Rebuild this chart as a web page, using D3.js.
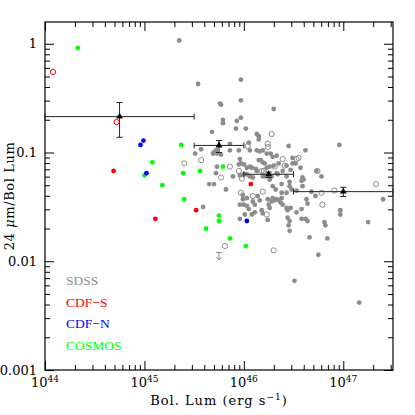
<!DOCTYPE html>
<html><head><meta charset="utf-8">
<script src="https://cdn.jsdelivr.net/npm/d3@7"></script>
<style>body{margin:0;background:#fff}svg{display:block}</style>
</head><body>
<script>
// ---- data (log10 values) ----
const sdssLogL = [45.35,45.54,45.97,45.97,45.76,45.77,46.30,45.79,45.79,45.93,45.97,45.92,46.02,45.68,46.13,46.15,46.15,45.86,46.05,46.45,46.62,46.96,45.51,45.57,45.65,45.72,45.70,45.69,45.73,45.86,45.77,45.95,45.96,45.97,46.00,45.73,45.72,45.89,46.00,45.70,45.82,46.06,46.13,46.16,46.19,46.23,46.27,46.29,46.33,46.49,46.15,46.17,46.19,46.21,46.23,46.26,46.30,46.35,46.43,46.49,46.57,46.73,46.78,45.95,46.03,46.06,46.03,46.06,46.09,46.22,46.26,46.28,46.33,46.39,46.43,46.46,45.99,46.14,46.24,46.29,46.32,46.38,46.38,46.43,46.46,46.48,46.53,46.59,46.60,46.63,46.68,46.72,47.40,46.59,46.64,46.58,46.53,46.97,46.97,46.58,46.62,46.64,46.81,46.82,47.25,46.66,46.84,46.75,46.51,47.16,45.99,46.03,46.00,46.03,46.09,46.16,46.11,46.18,46.19,46.25,46.26,46.28,46.29,46.31,46.33,46.35,46.37,46.38,46.39,46.43,46.47,46.44,46.44,46.46,46.45,46.46,46.05,46.08,45.59,46.01,45.96,46.24,46.11,45.96,46.08,46.12,46.13,46.19,46.34,46.47,46.52,45.96,46.58];
const sdssLogR = [0.03,-0.37,-0.33,-0.52,-0.55,-0.56,-0.60,-0.70,-0.73,-0.71,-0.68,-0.78,-0.78,-0.81,-0.83,-0.85,-0.88,-0.92,-0.91,-0.94,-0.98,-0.93,-1.01,-0.97,-1.29,-0.98,-1.00,-1.01,-1.01,-0.98,-1.02,-0.98,-1.06,-1.10,-1.11,-1.13,-1.19,-1.22,-1.20,-1.29,-1.34,-0.98,-0.98,-0.99,-0.98,-1.01,-1.01,-1.04,-1.03,-1.05,-1.07,-1.07,-1.09,-1.10,-1.14,-1.13,-1.12,-1.10,-1.12,-1.10,-1.14,-1.17,-1.22,-1.11,-1.14,-1.13,-1.20,-1.22,-1.23,-1.22,-1.25,-1.22,-1.19,-1.17,-1.22,-1.27,-1.39,-1.40,-1.43,-1.31,-1.34,-1.29,-1.37,-1.37,-1.31,-1.34,-1.35,-1.31,-1.25,-1.43,-1.36,-1.40,-1.43,-1.23,-1.47,-1.52,-1.55,-1.53,-1.57,-1.61,-1.61,-1.63,-1.64,-1.67,-1.64,-1.78,-1.79,-1.94,-2.18,-2.38,-1.43,-1.42,-1.48,-1.49,-1.45,-1.44,-1.55,-1.53,-1.56,-1.48,-1.51,-1.45,-1.42,-1.44,-1.43,-1.44,-1.46,-1.42,-1.48,-1.51,-1.51,-1.53,-1.60,-1.63,-1.67,-1.72,-1.52,-1.57,-1.50,-1.57,-1.61,-1.62,-1.48,-1.48,-1.14,-1.15,-1.17,-1.22,-1.20,-1.16,-1.10,-1.21,-1.26];
const sdssOpenLogL = [45.40,45.57,46.28,46.04,46.24,46.24,45.77,45.95,45.98,45.86,45.97,46.39,46.53,46.55,46.31,46.41,46.74,46.18,46.20,46.09,46.19,46.78,46.91,47.33,46.79,46.23,46.30,45.81];
const sdssOpenLogR = [-1.10,-1.07,-0.83,-0.94,-0.92,-0.95,-1.23,-1.17,-1.24,-1.13,-1.37,-1.06,-1.06,-1.05,-1.13,-1.12,-1.17,-1.17,-1.17,-1.40,-1.36,-1.37,-1.35,-1.29,-1.48,-1.57,-1.90,-1.86];
const sdssLimitLogL = [45.75];
const sdssLimitLogR = [-1.92];

const cdfsLogL = [44.69,45.11,45.52,46.07];
const cdfsLogR = [-1.17,-1.61,-1.53,-1.29];
const cdfsOpenLogL = [44.08,44.72];
const cdfsOpenLogR = [-0.26,-0.72];

const cdfnLogL = [44.96,44.99,45.02,46.03];
const cdfnLogR = [-0.93,-0.89,-1.19,-1.63];

const cosmosLogL = [44.33,45.37,45.08,45.00,45.18,45.39,45.56,45.79,45.40,45.62,45.75,45.75,45.86,46.02];
const cosmosLogR = [-0.04,-0.93,-1.09,-1.21,-1.30,-1.19,-1.17,-1.13,-1.43,-1.70,-1.58,-1.63,-1.79,-1.86];

// binned means with error bars
const binLogL   = [44.75,45.75,46.25,47.0];
const binLogR   = [-0.67,-0.935,-1.20,-1.36];
const binLoLogL = [44.0,45.5,46.0,46.5];
const binHiLogL = [45.5,46.0,46.5,47.5];
const binLoLogR = [-0.86,-1.0,-1.23,-1.405];
const binHiLogR = [-0.54,-0.89,-1.18,-1.32];

const xMajor = [1e44,1e45,1e46,1e47];
const xTickExp = ["44","45","46","47"];
const yMajor = [0.001,0.01,0.1,1];
const yTickLabels = ["0.001","0.01","0.1","1"];

const legendNames = ["SDSS","CDF\u2212S","CDF\u2212N","COSMOS"];
const legendColors = ["#8c8c8c","#ff0000","#0000ff","#00ff00"];

// ---- drawing ----
const P = v => Math.pow(10, v);
const M = {l:45, t:22, r:393, b:370};
const x = d3.scaleLog().domain([1e44, P(47.5)]).range([M.l, M.r]);
const y = d3.scaleLog().domain([1e-3, P(0.2)]).range([M.b, M.t]);

const svg = d3.select("body").append("svg").attr("width",415).attr("height",415);
svg.append("rect").attr("width",415).attr("height",415).attr("fill","#fff");

function minors(lo, hi, dmin, dmax) {
  const out = [];
  for (let d = dmin; d <= dmax; d++) for (let k = 2; k <= 9; k++) {
    const v = k * Math.pow(10, d);
    if (v > lo && v < hi) out.push(v);
  }
  return out;
}
const xMinor = minors(1e44, P(47.5), 44, 47);
const yMinor = minors(1e-3, P(0.2), -3, 0);

const serif = "DejaVu Serif";
function axisPair(axisFn, scale, major, minor, transform, fmt, pad) {
  const g = svg.append("g").attr("transform", transform);
  g.call(axisFn(scale).tickValues(major).tickSizeInner(-9).tickSizeOuter(0).tickPadding(pad||8).tickFormat(fmt || (() => "")));
  g.append("g").call(axisFn(scale).tickValues(minor).tickSizeInner(-5).tickSizeOuter(0).tickFormat(() => ""));
  g.selectAll(".domain").remove();
  g.selectAll("line").attr("stroke","#000").attr("stroke-width",1);
  g.attr("font-family", serif).attr("font-size", 13);
  return g;
}
const gB = axisPair(d3.axisBottom, x, xMajor, xMinor, `translate(0,${M.b})`);
axisPair(d3.axisTop, x, xMajor, xMinor, `translate(0,${M.t})`);
axisPair(d3.axisLeft, y, yMajor, yMinor, `translate(${M.l},0)`, (d,i) => yTickLabels[i], 8)
  .selectAll("text").attr("fill","#000").attr("font-family", serif).attr("font-size",13);
axisPair(d3.axisRight, y, yMajor, yMinor, `translate(${M.r},0)`);

// x tick labels 10^n
xMajor.forEach((v,i) => {
  const t = svg.append("text").attr("x", x(v)).attr("y", 387).attr("text-anchor","middle")
    .attr("font-family", serif).attr("font-size",13).attr("fill","#000");
  t.append("tspan").text("10");
  t.append("tspan").attr("dy",-5).attr("font-size",9).text(xTickExp[i]);
});

// frame
svg.append("rect").attr("x",M.l).attr("y",M.t).attr("width",M.r-M.l).attr("height",M.b-M.t)
  .attr("fill","none").attr("stroke","#000").attr("stroke-width",1.2);

// axis titles
const xt = svg.append("text").attr("x",219).attr("y",405).attr("text-anchor","middle")
  .attr("font-family",serif).attr("font-size",13).attr("letter-spacing",1).attr("fill","#000");
xt.append("tspan").text("Bol. Lum (erg s");
xt.append("tspan").attr("dy",-5).attr("font-size",9).text("\u22121");
xt.append("tspan").attr("dy",5).text(")");

const yt = svg.append("text").attr("transform","translate(14,196) rotate(-90)").attr("text-anchor","middle")
  .attr("font-family",serif).attr("font-size",13).attr("letter-spacing",0.6).attr("fill","#000");
yt.append("tspan").text("24 ");
yt.append("tspan").attr("font-style","italic").text("\u03bc");
yt.append("tspan").text("m/Bol Lum");

// points
const plot = svg.append("g");
const gray = legendColors[0];
plot.selectAll(".sf").data(sdssLogL).enter().append("circle")
  .attr("cx", d => x(P(d))).attr("cy", (d,i) => y(P(sdssLogR[i]))).attr("r",2.4).attr("fill",gray);
plot.selectAll(".so").data(sdssOpenLogL).enter().append("circle")
  .attr("cx", d => x(P(d))).attr("cy", (d,i) => y(P(sdssOpenLogR[i]))).attr("r",2.6)
  .attr("fill","none").attr("stroke",gray).attr("stroke-width",1);
sdssLimitLogL.forEach((d,i) => {
  const cx = x(P(d)), cy = y(P(sdssLimitLogR[i]));
  plot.append("line").attr("x1",cx-3).attr("x2",cx+3).attr("y1",cy).attr("y2",cy).attr("stroke",gray);
  plot.append("line").attr("x1",cx).attr("x2",cx).attr("y1",cy).attr("y2",cy+7).attr("stroke",gray);
  plot.append("path").attr("d",`M${cx-2.5},${cy+4.5}L${cx},${cy+7.5}L${cx+2.5},${cy+4.5}`)
    .attr("fill","none").attr("stroke",gray);
});

function filled(L, R, col) {
  plot.append("g").selectAll("circle").data(L).enter().append("circle")
    .attr("cx", d => x(P(d))).attr("cy", (d,i) => y(P(R[i]))).attr("r",2.4).attr("fill",col);
}
filled(cosmosLogL, cosmosLogR, legendColors[3]);
filled(cdfnLogL, cdfnLogR, legendColors[2]);
filled(cdfsLogL, cdfsLogR, legendColors[1]);
plot.append("g").selectAll("circle").data(cdfsOpenLogL).enter().append("circle")
  .attr("cx", d => x(P(d))).attr("cy", (d,i) => y(P(cdfsOpenLogR[i]))).attr("r",2.6)
  .attr("fill","none").attr("stroke",legendColors[1]).attr("stroke-width",1);

// binned means
const eb = svg.append("g").attr("stroke","#222").attr("stroke-width",1).attr("fill","none");
binLogL.forEach((d,i) => {
  const cx = x(P(d)), cy = y(P(binLogR[i]));
  const x0 = x(P(binLoLogL[i])), x1 = x(P(binHiLogL[i]));
  const y0 = y(P(binLoLogR[i])), y1 = y(P(binHiLogR[i]));
  eb.append("line").attr("x1",x0).attr("x2",x1).attr("y1",cy).attr("y2",cy);
  eb.append("line").attr("x1",x0).attr("x2",x0).attr("y1",cy-3).attr("y2",cy+3);
  eb.append("line").attr("x1",x1).attr("x2",x1).attr("y1",cy-3).attr("y2",cy+3);
  eb.append("line").attr("x1",cx).attr("x2",cx).attr("y1",y0).attr("y2",y1);
  eb.append("line").attr("x1",cx-3).attr("x2",cx+3).attr("y1",y0).attr("y2",y0);
  eb.append("line").attr("x1",cx-3).attr("x2",cx+3).attr("y1",y1).attr("y2",y1);
  svg.append("path").attr("d", d3.symbol(d3.symbolTriangle, 20)())
    .attr("transform",`translate(${cx},${cy})`).attr("fill","#000");
});

// legend
legendNames.forEach((n,i) => {
  svg.append("text").attr("x",66).attr("y",285 + i*21.7)
    .attr("font-family","Liberation Serif").attr("font-size",13.5).attr("fill",legendColors[i]).text(n);
});
</script>
</body></html>
